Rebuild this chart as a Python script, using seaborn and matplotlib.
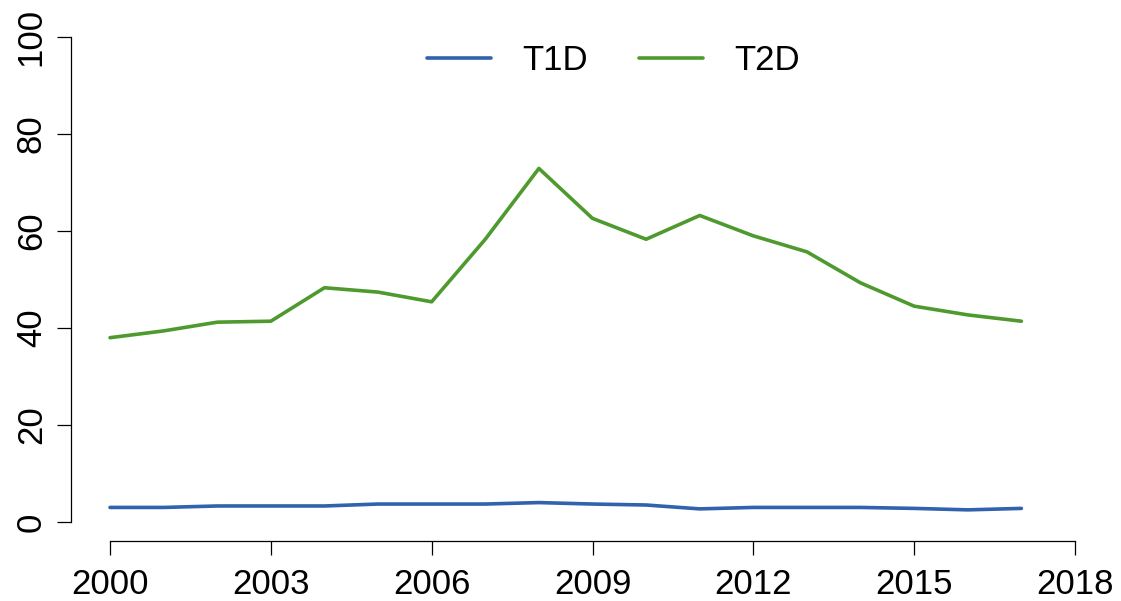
import matplotlib
matplotlib.use('AGG')
import matplotlib.pyplot as plt
import pandas as pd
import seaborn as sns

years = list(range(2000, 2018))
t1d = [3.0, 3.0, 3.3, 3.3, 3.3, 3.7, 3.7, 3.7, 4.0, 3.7, 3.5, 2.7, 3.0, 3.0, 3.0, 2.8, 2.5, 2.8]
t2d = [38.0, 39.4, 41.2, 41.4, 48.3, 47.4, 45.4, 58.3, 72.9, 62.6, 58.3, 63.2, 59.0, 55.7, 49.3, 44.5, 42.7, 41.4]
x_ticks = [2000, 2003, 2006, 2009, 2012, 2015, 2018]
y_ticks = [0, 20, 40, 60, 80, 100]

df = pd.concat([
    pd.DataFrame({'year': years, 'value': t1d, 'type': 'T1D'}),
    pd.DataFrame({'year': years, 'value': t2d, 'type': 'T2D'}),
])

sns.set_style('ticks')
plt.rcParams['font.family'] = ['Liberation Sans', 'DejaVu Sans']
plt.rcParams['text.color'] = 'black'

fig = plt.figure(figsize=(11.21, 6.01), dpi=100)
ax = fig.add_axes([0.0637, 0.0992, 0.9297, 0.8715])

sns.lineplot(data=df, x='year', y='value', hue='type',
             palette={'T1D': '#3062ae', 'T2D': '#4e9a2f'},
             linewidth=2.6, ax=ax)

ax.set_xlim(1999.28, 2018.72)
ax.set_ylim(-4, 104)
ax.set_xticks(x_ticks)
ax.set_yticks(y_ticks)
ax.set_xlabel('')
ax.set_ylabel('')
ax.tick_params(labelsize=25, length=10, width=0.9, colors='black')
ax.tick_params(axis='x', pad=9)
ax.tick_params(axis='y', pad=7)
for lbl in ax.get_yticklabels():
    lbl.set_rotation(90)
    lbl.set_va('center')
for side in ['top', 'right']:
    ax.spines[side].set_visible(False)
ax.spines['left'].set_bounds(0, 100)
ax.spines['bottom'].set_bounds(2000, 2018)
for side in ['left', 'bottom']:
    ax.spines[side].set_linewidth(0.9)
    ax.spines[side].set_color('black')

leg = ax.legend(loc='center', bbox_to_anchor=(0.52, 0.918), ncol=2, frameon=False,
                fontsize=25, handlelength=1.85, handletextpad=0.9, columnspacing=1.45)
for t in leg.get_texts():
    t.set_color('black')

fig.savefig('out.png', dpi=100)
